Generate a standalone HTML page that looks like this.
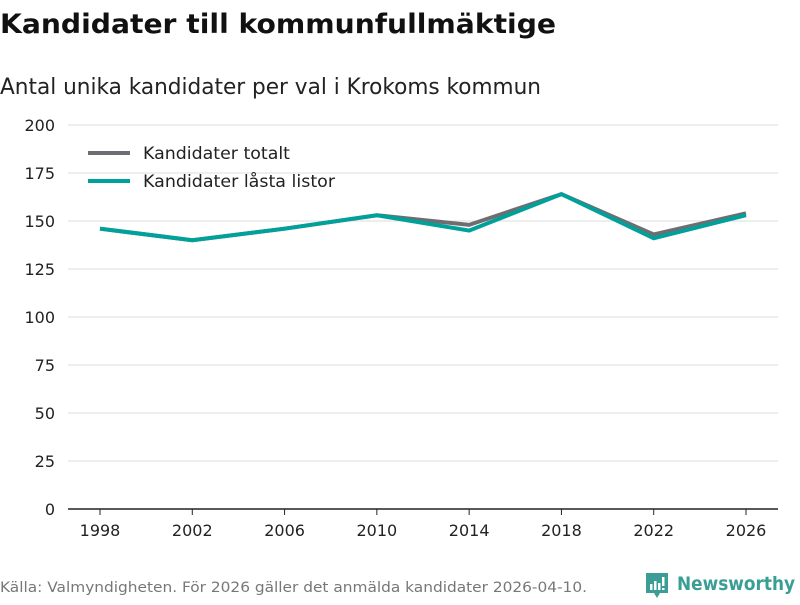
<!DOCTYPE html>
<html><head><meta charset="utf-8"><style>
body{margin:0;width:800px;height:600px;background:#fff;font-family:"Liberation Sans","DejaVu Sans",sans-serif;overflow:hidden}
svg text{font-family:"DejaVu Sans","Liberation Sans",sans-serif}
</style></head><body>
<svg id="c" width="800" height="600">
<text x="0" y="33" font-size="27" font-weight="bold" fill="#111" textLength="556" lengthAdjust="spacingAndGlyphs">Kandidater till kommunfullmäktige</text>
<text x="0" y="94" font-size="22" fill="#222" textLength="541" lengthAdjust="spacingAndGlyphs">Antal unika kandidater per val i Krokoms kommun</text>
<g id="grid"></g><g id="lines"></g>
<g>
<line x1="88" y1="153" x2="130" y2="153" stroke="#6d6e71" stroke-width="4"/>
<text x="143" y="159" font-size="16.5" fill="#222" textLength="147" lengthAdjust="spacingAndGlyphs">Kandidater totalt</text>
<line x1="88" y1="181" x2="130" y2="181" stroke="#00a19a" stroke-width="4"/>
<text x="143" y="187" font-size="16.5" fill="#222" textLength="192" lengthAdjust="spacingAndGlyphs">Kandidater låsta listor</text>
</g>
<text x="0" y="592" font-size="14.5" fill="#777" textLength="587" lengthAdjust="spacingAndGlyphs">Källa: Valmyndigheten. För 2026 gäller det anmälda kandidater 2026-04-10.</text>
<g>
<path d="M646 573h22v20h-8l-3 5-3-5h-8z" fill="#3a9e94"/>
<rect x="650" y="584" width="2.5" height="6" fill="#fff"/><rect x="654" y="581" width="2.5" height="9" fill="#fff"/><rect x="658" y="583" width="2.5" height="7" fill="#fff"/><rect x="662" y="577" width="2.5" height="9" fill="#fff"/><rect x="662" y="588" width="2.5" height="2" fill="#fff"/>
<text x="677" y="590" font-size="19" font-weight="bold" fill="#3a9e94" textLength="118" lengthAdjust="spacingAndGlyphs">Newsworthy</text>
</g>
</svg>
<script>
const years=[1998,2002,2006,2010,2014,2018,2022,2026];
const totalt=[146,140,146,153,148,164,143,154];
const lasta=[146,140,146,153,145,164,141,153];
const yTicks=[0,25,50,75,100,125,150,175,200];
const NS="http://www.w3.org/2000/svg";
const x=v=>100+(v-1998)*(646/28);
const y=v=>509-v*1.92;
const grid=document.getElementById('grid'),lines=document.getElementById('lines');
function mk(tag,a,p){const e=document.createElementNS(NS,tag);for(const k in a)e.setAttribute(k,a[k]);p.appendChild(e);return e;}
yTicks.forEach(t=>{
 if(t>0){const l=mk('line',{x1:68,x2:778,y1:y(t),y2:y(t),stroke:'#ddd','stroke-width':1},grid);
 
 }
 const tx=mk('text',{x:55,y:y(t)+6,'font-size':16,fill:'#222','text-anchor':'end'},grid);tx.textContent=t;
 
 
});
const ax=mk('line',{x1:68,x2:778,y1:509,y2:509,stroke:'#222','stroke-width':1.5},grid);


years.forEach(v=>{
 const tk=mk('line',{x1:x(v),x2:x(v),y1:509,y2:515,stroke:'#222'},grid);
 
 
 const tx=mk('text',{x:x(v),y:536,'font-size':16,fill:'#222','text-anchor':'middle'},grid);tx.textContent=v;
 
 
});
[[totalt,'#6d6e71','line-totalt'],[lasta,'#00a19a','line-lasta']].forEach(([d,c,n])=>{
 const p=mk('polyline',{points:d.map((v,i)=>x(years[i])+','+y(v)).join(' '),fill:'none',stroke:c,'stroke-width':4,'stroke-linejoin':'miter'},lines);
 
 
});
</script>
</body></html>
